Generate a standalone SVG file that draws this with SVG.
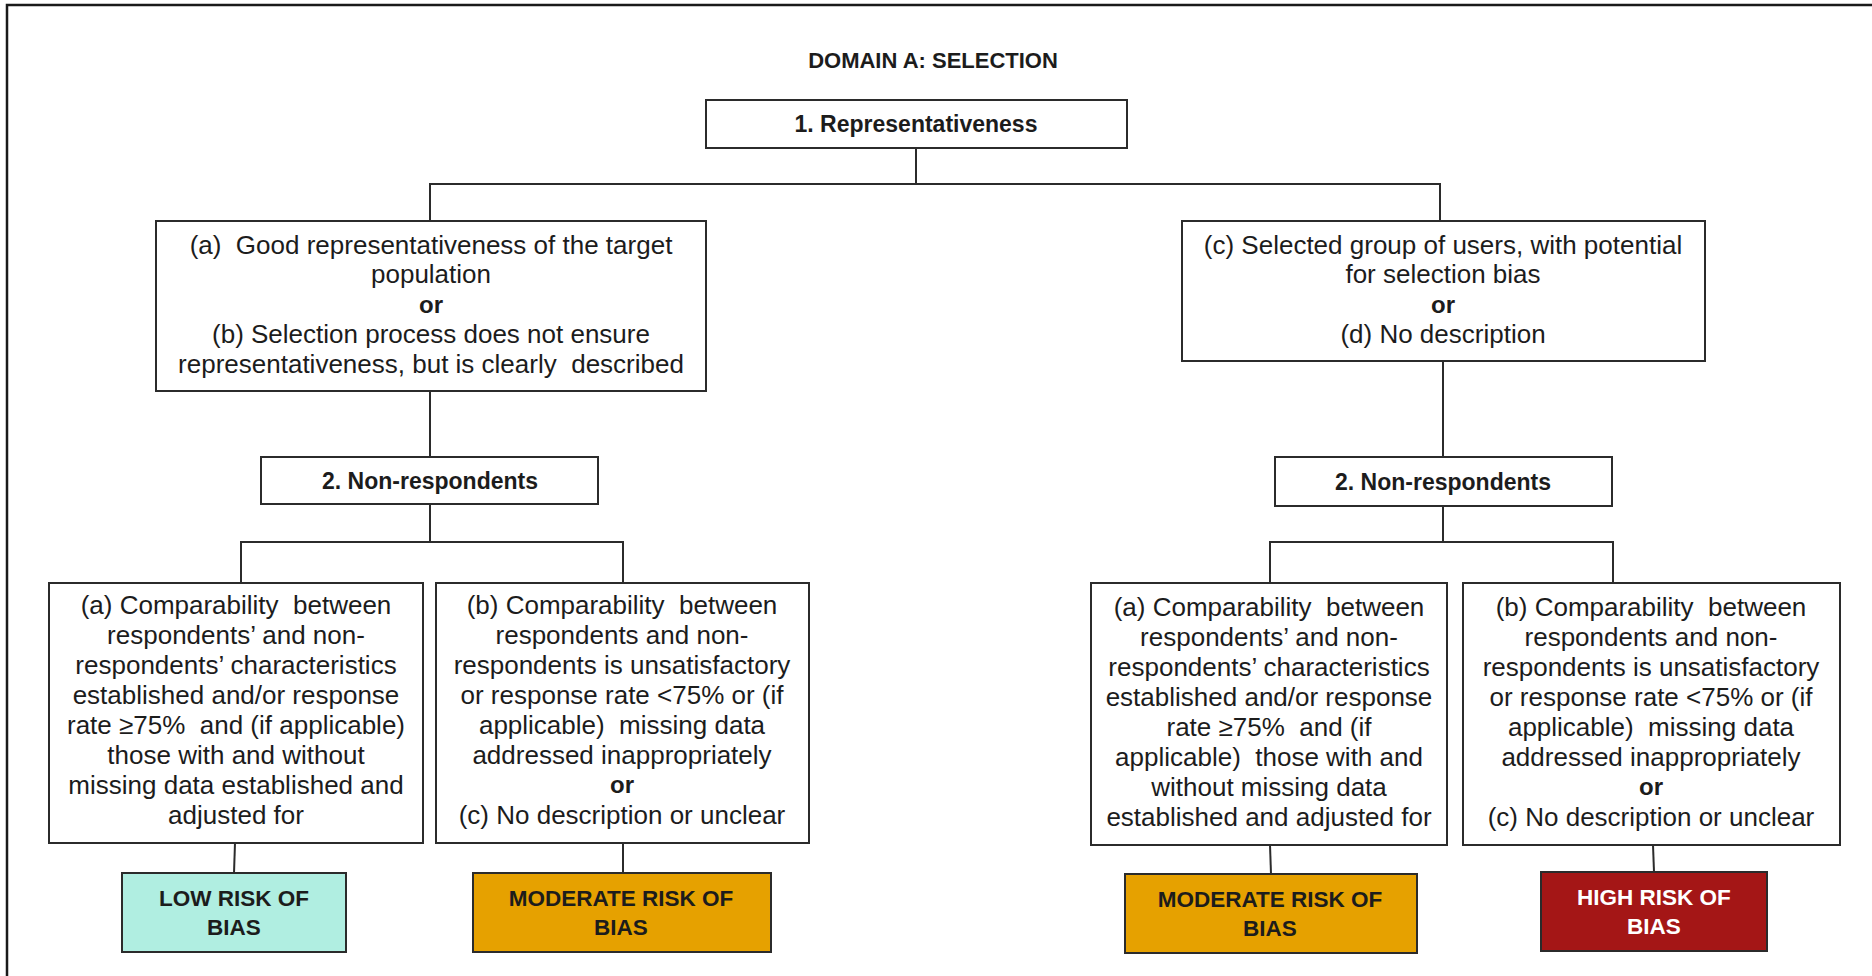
<svg xmlns="http://www.w3.org/2000/svg" width="1872" height="976" viewBox="0 0 1872 976">
  <style>
    .box { fill: #ffffff; stroke: #2b2b2b; stroke-width: 2; }
    .wire { fill: none; stroke: #2b2b2b; stroke-width: 2; }
    .frame { fill: none; stroke: #1a1a1a; stroke-width: 2.5; }
    text { font-family: "Liberation Sans", Arial, sans-serif; fill: #1c1c1c; text-anchor: middle; white-space: pre; }
    .body { font-size: 26px; }
    .or { font-size: 24px; font-weight: bold; }
    .head { font-size: 23px; font-weight: bold; }
    .title { font-size: 22px; font-weight: bold; }
    .verdict { font-size: 22.5px; font-weight: bold; }
    .low { fill: #b0eee1; stroke: #2b2b2b; stroke-width: 2; }
    .mod { fill: #e6a100; stroke: #2b2b2b; stroke-width: 2; }
    .high { fill: #a41616; stroke: #2b2b2b; stroke-width: 2; }
    .light { fill: #ffffff; }
  </style>

  <rect width="1872" height="976" fill="#ffffff"/>
  <!-- outer frame (top and left edges) -->
  <path class="frame" d="M7 976 V5 H1872"/>

  <text class="title" x="933" y="68">DOMAIN A: SELECTION</text>

  <!-- connectors -->
  <g id="connectors">
    <path class="wire" d="M916 148 V184 M430 221 V184 H1440 V221"/>
    <path class="wire" d="M430 391 V457"/>
    <path class="wire" d="M1443 361 V457"/>
    <path class="wire" d="M430 504 V542 M241 583 V542 H623 V583"/>
    <path class="wire" d="M1443 506 V542 M1270 583 V542 H1613 V583"/>
    <path class="wire" d="M235 843 L234 873"/>
    <path class="wire" d="M623 843 V873"/>
    <path class="wire" d="M1270 845 L1271 874"/>
    <path class="wire" d="M1653 845 L1654 872"/>
  </g>

  <g id="representativeness">
    <rect class="box" x="706" y="100" width="421" height="48"/>
    <text class="head" x="916" y="132">1. Representativeness</text>
  </g>

  <g id="rep-good">
    <rect class="box" x="156" y="221" width="550" height="170"/>
    <text class="body" x="431" y="254">(a)  Good representativeness of the target</text>
    <text class="body" x="431" y="283">population</text>
    <text class="or" x="431" y="313">or</text>
    <text class="body" x="431" y="343">(b) Selection process does not ensure</text>
    <text class="body" x="431" y="373">representativeness, but is clearly  described</text>
  </g>

  <g id="rep-poor">
    <rect class="box" x="1182" y="221" width="523" height="140"/>
    <text class="body" x="1443" y="254">(c) Selected group of users, with potential</text>
    <text class="body" x="1443" y="283">for selection bias</text>
    <text class="or" x="1443" y="313">or</text>
    <text class="body" x="1443" y="343">(d) No description</text>
  </g>

  <g id="nonresp-left">
    <rect class="box" x="261" y="457" width="337" height="47"/>
    <text class="head" x="430" y="489">2. Non-respondents</text>
  </g>

  <g id="nonresp-right">
    <rect class="box" x="1275" y="457" width="337" height="49"/>
    <text class="head" x="1443" y="490">2. Non-respondents</text>
  </g>

  <g id="left-a">
    <rect class="box" x="49" y="583" width="374" height="260"/>
    <text class="body" x="236" y="614">(a) Comparability  between</text>
    <text class="body" x="236" y="644">respondents’ and non-</text>
    <text class="body" x="236" y="674">respondents’ characteristics</text>
    <text class="body" x="236" y="704">established and/or response</text>
    <text class="body" x="236" y="734">rate ≥75%  and (if applicable)</text>
    <text class="body" x="236" y="764">those with and without</text>
    <text class="body" x="236" y="794">missing data established and</text>
    <text class="body" x="236" y="824">adjusted for</text>
  </g>

  <g id="left-b">
    <rect class="box" x="436" y="583" width="373" height="260"/>
    <text class="body" x="622" y="614">(b) Comparability  between</text>
    <text class="body" x="622" y="644">respondents and non-</text>
    <text class="body" x="622" y="674">respondents is unsatisfactory</text>
    <text class="body" x="622" y="704">or response rate &lt;75% or (if</text>
    <text class="body" x="622" y="734">applicable)  missing data</text>
    <text class="body" x="622" y="764">addressed inappropriately</text>
    <text class="or" x="622" y="793">or</text>
    <text class="body" x="622" y="824">(c) No description or unclear</text>
  </g>

  <g id="right-a">
    <rect class="box" x="1091" y="583" width="356" height="262"/>
    <text class="body" x="1269" y="616">(a) Comparability  between</text>
    <text class="body" x="1269" y="646">respondents’ and non-</text>
    <text class="body" x="1269" y="676">respondents’ characteristics</text>
    <text class="body" x="1269" y="706">established and/or response</text>
    <text class="body" x="1269" y="736">rate ≥75%  and (if</text>
    <text class="body" x="1269" y="766">applicable)  those with and</text>
    <text class="body" x="1269" y="796">without missing data</text>
    <text class="body" x="1269" y="826">established and adjusted for</text>
  </g>

  <g id="right-b">
    <rect class="box" x="1463" y="583" width="377" height="262"/>
    <text class="body" x="1651" y="616">(b) Comparability  between</text>
    <text class="body" x="1651" y="646">respondents and non-</text>
    <text class="body" x="1651" y="676">respondents is unsatisfactory</text>
    <text class="body" x="1651" y="706">or response rate &lt;75% or (if</text>
    <text class="body" x="1651" y="736">applicable)  missing data</text>
    <text class="body" x="1651" y="766">addressed inappropriately</text>
    <text class="or" x="1651" y="795">or</text>
    <text class="body" x="1651" y="826">(c) No description or unclear</text>
  </g>

  <g id="risk-low">
    <rect class="low" x="122" y="873" width="224" height="79"/>
    <text class="verdict" x="234" y="906">LOW RISK OF</text>
    <text class="verdict" x="234" y="935">BIAS</text>
  </g>

  <g id="risk-moderate-left">
    <rect class="mod" x="473" y="873" width="298" height="79"/>
    <text class="verdict" x="621" y="906">MODERATE RISK OF</text>
    <text class="verdict" x="621" y="935">BIAS</text>
  </g>

  <g id="risk-moderate-right">
    <rect class="mod" x="1125" y="874" width="292" height="79"/>
    <text class="verdict" x="1270" y="907">MODERATE RISK OF</text>
    <text class="verdict" x="1270" y="936">BIAS</text>
  </g>

  <g id="risk-high">
    <rect class="high" x="1541" y="872" width="226" height="79"/>
    <text class="verdict light" x="1654" y="905">HIGH RISK OF</text>
    <text class="verdict light" x="1654" y="934">BIAS</text>
  </g>
</svg>
